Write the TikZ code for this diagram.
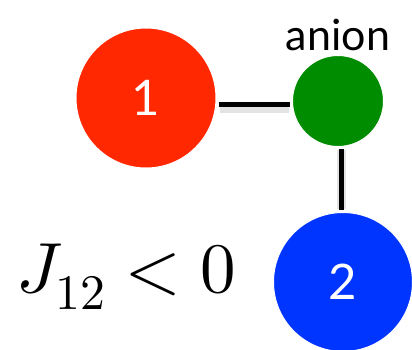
\documentclass[tikz,border=0pt]{standalone}
\usepackage{fontspec}
\setmainfont{Lato}
\usepackage{unicode-math}
\setmathfont{Latin Modern Math}
\usepackage{xcolor}
\usetikzlibrary{positioning}
\definecolor{ionred}{RGB}{255,40,0}
\definecolor{aniongreen}{RGB}{0,140,0}
\definecolor{ionblue}{RGB}{0,52,255}

\begin{document}
\begin{tikzpicture}[x=1pt,y=-1pt,
  every node/.style={font=\fontsize{49}{52}\selectfont},
  site/.style={draw=white,line width=1pt,circle,text=white,inner sep=0pt},
  bond/.style={line width=5pt,shorten <=2pt,shorten >=2pt},
  bondshade/.style={line width=9pt,black!18,opacity=0.6,shorten <=3pt,shorten >=3pt}
]
  \useasboundingbox (0,0) rectangle (412,349);
  \clip (0,0) rectangle (412,349);
  \node[site,fill=ionred,minimum size=140pt]     (ion1)  at (146,98)  {1};
  \node[site,fill=aniongreen,minimum size=91pt]  (anion) at (338,101) {};
  \node[site,fill=ionblue,minimum size=139pt]    (ion2)  at (343,282) {2};
  \node[above=1pt of anion,font=\fontsize{43}{45}\selectfont] (anionlabel) {anion};
  \node[anchor=base west,font=\fontsize{71}{74}\selectfont] (coupling) at (13,292) {$J_{12}<0$};
  % bonds
  \draw[bondshade] ([yshift=-10pt]ion1.east) -- ([yshift=-7pt]anion.west);
  \draw[bondshade] ([xshift=3pt]anion.south) -- ([xshift=-2pt]ion2.north);
  \draw[bond] ([yshift=-6pt]ion1.east) -- ([yshift=-3pt]anion.west);
  \draw[bond] ([xshift=3pt]anion.south) -- ([xshift=-2pt]ion2.north);
\end{tikzpicture}
\end{document}
